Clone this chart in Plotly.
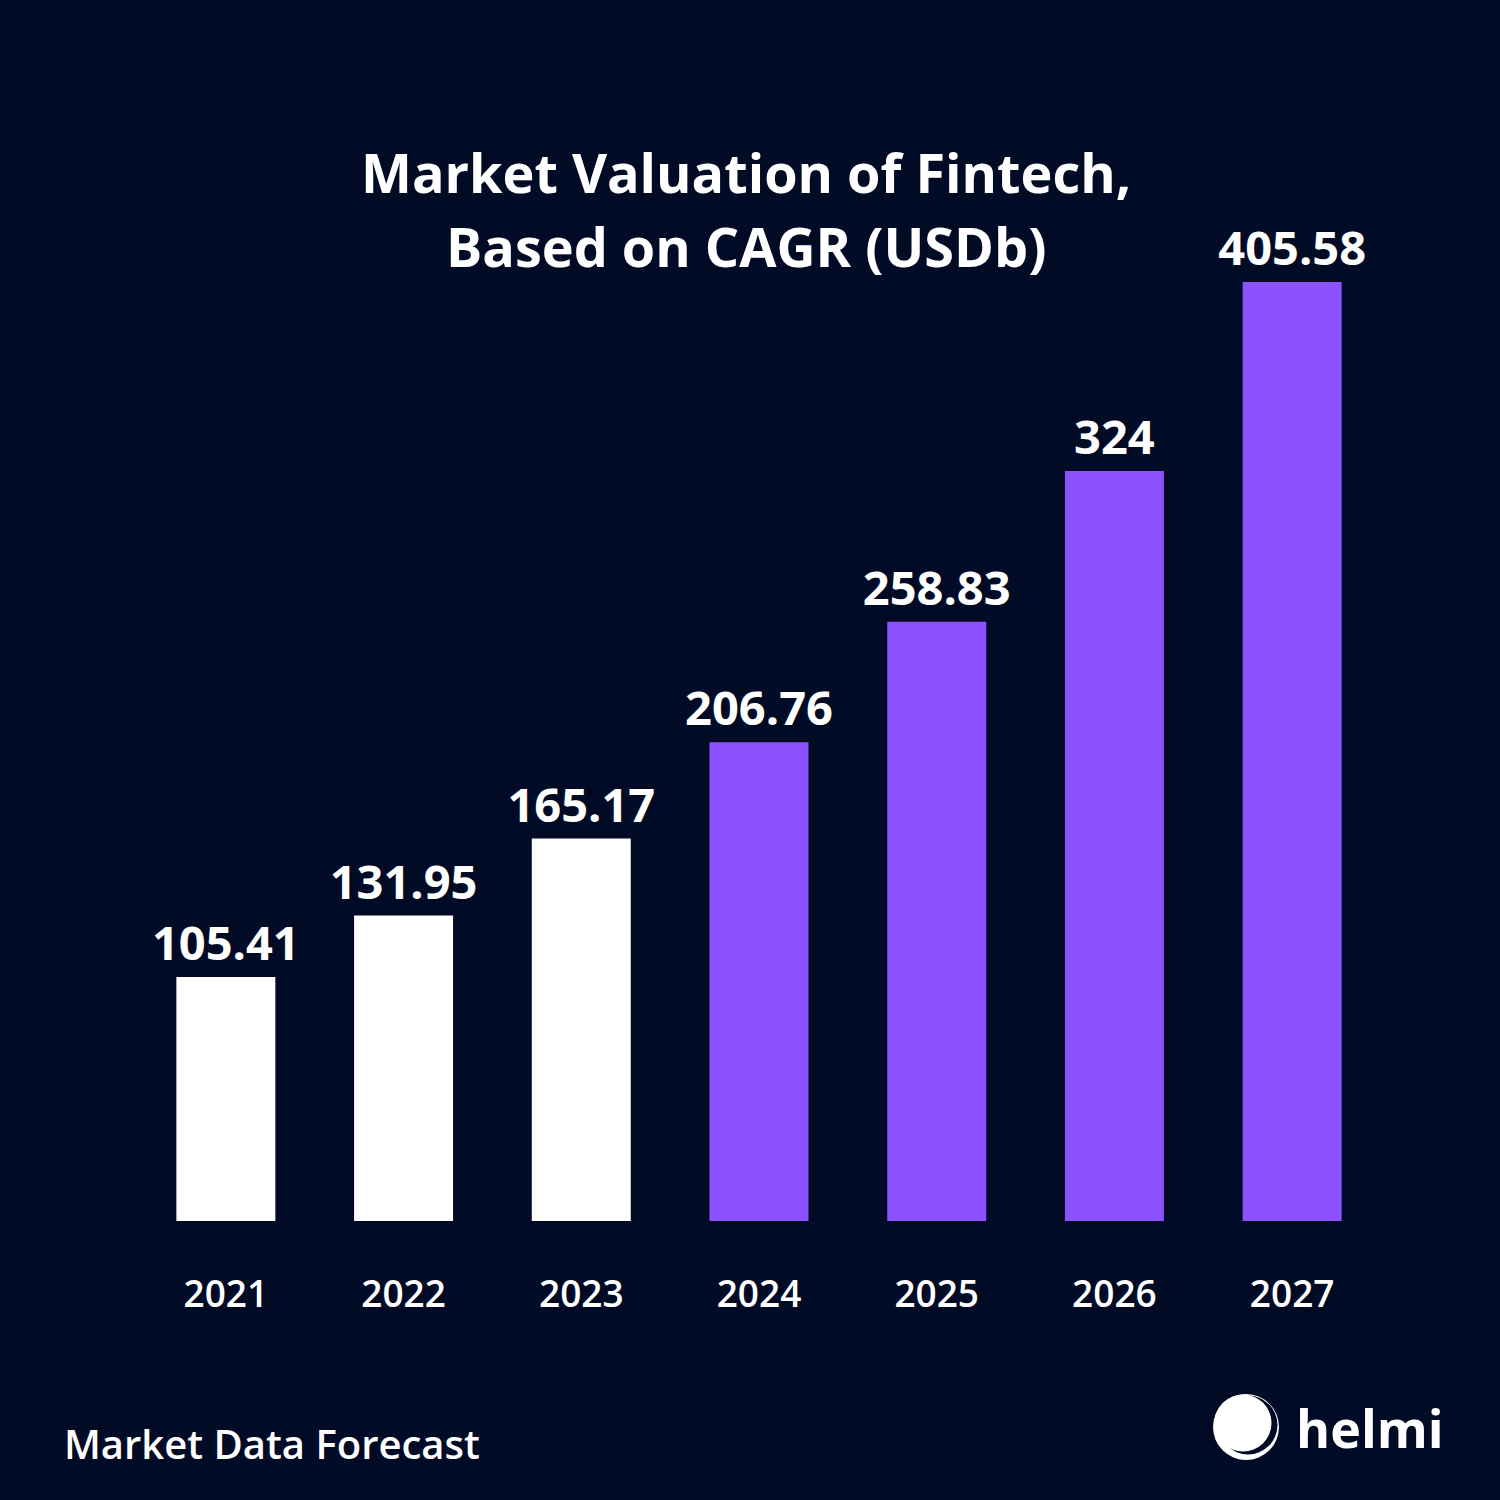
import plotly.graph_objects as go

years = ["2021", "2022", "2023", "2024", "2025", "2026", "2027"]
values = [105.41, 131.95, 165.17, 206.76, 258.83, 324, 405.58]
bar_colors = ["#ffffff", "#ffffff", "#ffffff", "#8c52ff", "#8c52ff", "#8c52ff", "#8c52ff"]
value_labels = [f"{v:g}" for v in values]

title_lines = ["Market Valuation of Fintech,", "Based on CAGR (USDb)"]
source_text = "Market Data Forecast"
brand_text = "helmi"

BG = "#020b25"
W, H = 1500, 1500
L, R, T, B = 137, 119, 200, 279
PW, PH = W - L - R, H - T - B


def px(x):
    return (x - L) / PW


def py(y):
    return (H - B - y) / PH


fig = go.Figure(
    go.Bar(
        x=years,
        y=values,
        marker=dict(color=bar_colors, line=dict(width=0)),
        text=value_labels,
        textposition="outside",
        textfont=dict(family="Open Sans", size=47, color="#ffffff", weight="bold"),
        constraintext="none",
        cliponaxis=False,
        hoverinfo="skip",
    )
)

fig.update_layout(
    width=W,
    height=H,
    margin=dict(l=L, r=R, t=T, b=B),
    paper_bgcolor=BG,
    plot_bgcolor=BG,
    bargap=0.443,
    showlegend=False,
)
fig.update_xaxes(
    showgrid=False,
    zeroline=False,
    showline=False,
    ticks="",
    tickfont=dict(family="Open Sans", size=37, color="#ffffff", weight=600),
    ticklabelstandoff=48,
)
fig.update_yaxes(range=[0, 441.0], visible=False, showgrid=False, zeroline=False)

# Title
for line, yc in zip(title_lines, [172, 246]):
    fig.add_annotation(
        text=line,
        xref="paper", yref="paper",
        x=px(746), y=py(yc),
        xanchor="center", yanchor="middle",
        showarrow=False,
        font=dict(family="Open Sans", size=54, color="#ffffff", weight="bold"),
    )

# Source
fig.add_annotation(
    text=source_text,
    xref="paper", yref="paper",
    x=px(62), y=py(1443),
    xanchor="left", yanchor="middle",
    showarrow=False,
    font=dict(family="Open Sans", size=40, color="#ffffff", weight=600),
)

# Brand logo
def circle(cx, cy, r, color):
    fig.add_shape(
        type="circle", xref="paper", yref="paper",
        x0=px(cx - r), x1=px(cx + r), y0=py(cy + r), y1=py(cy - r),
        fillcolor=color, line=dict(width=0), layer="above",
    )

circle(1246, 1427, 33, "#ffffff")
circle(1248, 1425, 29.5, BG)
circle(1243, 1423, 28.5, "#ffffff")

fig.add_annotation(
    text=brand_text,
    xref="paper", yref="paper",
    x=px(1294), y=py(1427),
    xanchor="left", yanchor="middle",
    showarrow=False,
    font=dict(family="Open Sans", size=52, color="#ffffff", weight="bold"),
)

fig.write_html("out.html")
